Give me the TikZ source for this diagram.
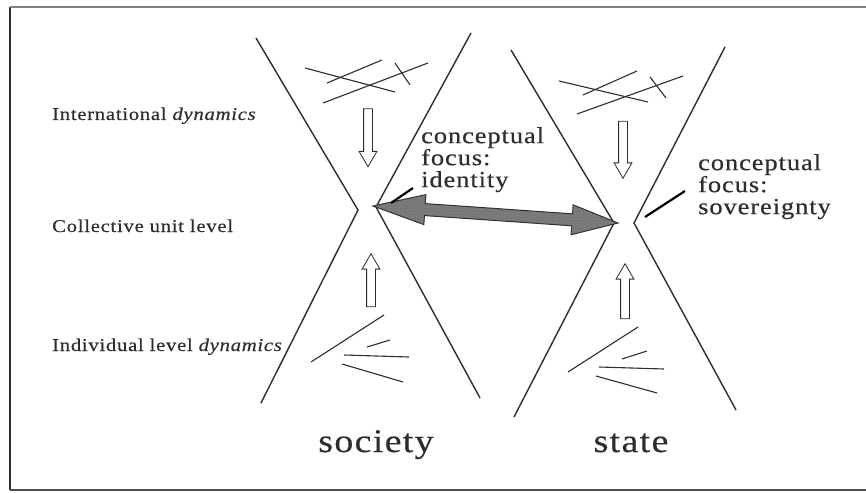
\documentclass[tikz,border=0pt]{standalone}
\usepackage{fontspec}
\setmainfont{Liberation Serif}
\newfontfamily\scanfont[FakeStretch=1.15,LetterSpace=4,FakeBold=0.4]{Liberation Serif}
\usetikzlibrary{calc,shapes.arrows,patterns}
\definecolor{inkgray}{RGB}{45,45,45}
\definecolor{hatchgray}{RGB}{125,125,125}

\begin{document}
\begin{tikzpicture}[x=1pt,y=-1pt,
  level/.style={anchor=base west,inner sep=0pt,text=inkgray,font=\scanfont\fontsize{18}{20}\selectfont},
  focus/.style={anchor=north west,align=left,inner sep=0pt,text=inkgray,font=\scanfont\fontsize{23}{22}\selectfont},
  unitname/.style={anchor=base,inner sep=0pt,text=inkgray,font=\scanfont\fontsize{33}{36}\selectfont},
  xline/.style={inkgray,line width=1.4pt},
  stroke/.style={inkgray,line width=1.1pt},
  pointer/.style={black,line width=2.2pt},
  hollow/.style={shape=single arrow,draw=inkgray,fill=white,line width=0.8pt,
    inner sep=4pt,single arrow head extend=4.5pt,single arrow tip angle=60},
  ]
  \useasboundingbox (0,0) rectangle (866,492);
  % frame of the scan
  \draw[inkgray,line width=2.2pt] (10,7) -- (10,490);
  \draw[gray,line width=1.5pt] (10,7) -- (866,7);
  \draw[gray!60!black,line width=1.5pt] (10,490) -- (866,490);

  % the two hourglasses
  \coordinate (socL) at (358,210);
  \coordinate (socR) at (376,207);
  \coordinate (staL) at (614,223);
  \coordinate (staR) at (634,223);
  \draw[xline] (256,38) -- (socL) -- (261,403);
  \draw[xline] (471,33) -- (socR) -- (480,398);
  \draw[xline] (511,50) -- (staL) -- (514,417);
  \draw[xline] (725,47) -- (staR) -- (736,410);

  % international tangles
  \draw[stroke] (305,68) -- (395,92);
  \draw[stroke] (327,83) -- (382,60);
  \draw[stroke] (323,103) -- (428,63);
  \draw[stroke] (395,63) -- (410,85);
  \draw[stroke] (559,81) -- (648,102);
  \draw[stroke] (583,95) -- (637,71);
  \draw[stroke] (577,114) -- (683,76);
  \draw[stroke] (650,77) -- (666,98);

  % individual strands
  \draw[stroke] (311,362) -- (384,315);
  \draw[stroke] (367,347) -- (390,340);
  \draw[stroke] (344,355) -- (409,357);
  \draw[stroke] (342,364) -- (403,382);
  \draw[stroke] (568,372) -- (638,327);
  \draw[stroke] (622,359) -- (647,351);
  \draw[stroke] (599,367) -- (664,369);
  \draw[stroke] (596,376) -- (657,393);

  % hollow arrows
  \node[hollow,minimum height=58pt,rotate=-90] (socdown) at (368,134) {};
  \node[hollow,minimum height=57pt,rotate=-90] (stadown) at (623,146) {};
  \node[hollow,minimum height=53pt,rotate=90] (socup) at (371,284) {};
  \node[hollow,minimum height=55pt,rotate=90] (staup) at (625,295) {};

  % double arrow between the two foci
  \coordinate (tl) at (373,206);
  \coordinate (tr) at (618,223);
  \filldraw[fill=hatchgray,draw=inkgray,line width=1pt,
    postaction={pattern=crosshatch dots,pattern color=black!60}]
    (tl) -- ($(tl)!52pt!(tr)!15pt!90:(tr)$) -- ($(tl)!52pt!(tr)!6pt!90:(tr)$)
    -- ($(tr)!46pt!(tl)!6pt!-90:(tl)$) -- ($(tr)!46pt!(tl)!15pt!-90:(tl)$)
    -- (tr) -- ($(tr)!46pt!(tl)!15pt!90:(tl)$) -- ($(tr)!46pt!(tl)!6pt!90:(tl)$)
    -- ($(tl)!52pt!(tr)!6pt!-90:(tr)$) -- ($(tl)!52pt!(tr)!15pt!-90:(tr)$) -- cycle;

  % labels
  \node[level] (intl) at (52,120) {International \textit{dynamics}};
  \node[level] (coll) at (52,232) {Collective unit level};
  \node[level] (indiv) at (52,351) {Individual level \textit{dynamics}};
  \node[focus] (idfocus) at (421,127) {conceptual\\focus:\\identity};
  \node[focus] (svfocus) at (698,154) {conceptual\\focus:\\sovereignty};
  \node[unitname] (soc) at (376,452) {society};
  \node[unitname] (sta) at (631,452) {state};

  \coordinate (idtail) at (413,188);
  \coordinate (idtip) at (391,203);
  \coordinate (svtail) at (685,191);
  \coordinate (svtip) at (645,217);
  \draw[pointer] (idtail) -- (idtip);
  \draw[pointer] (svtail) -- (svtip);
\end{tikzpicture}
\end{document}
